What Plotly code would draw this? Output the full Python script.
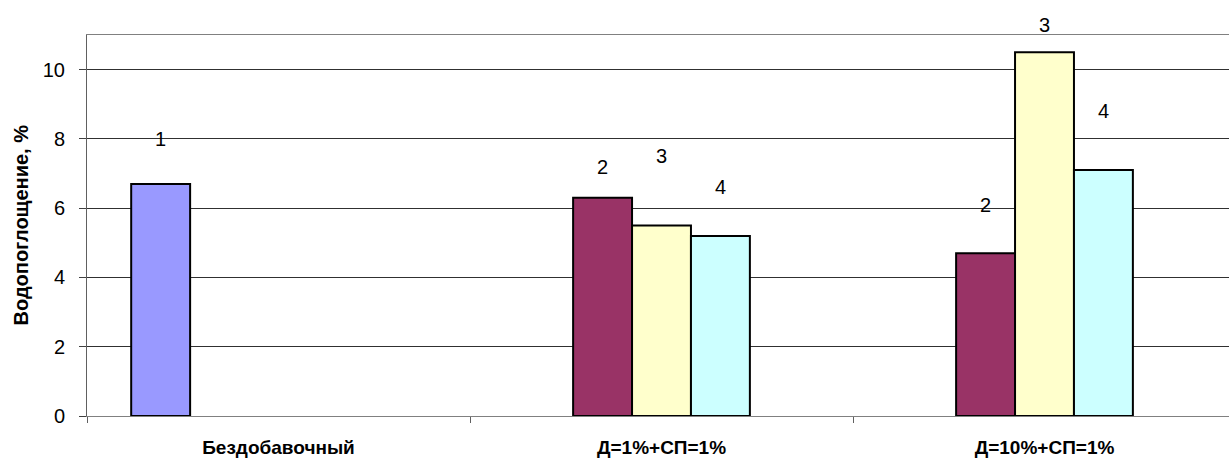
import plotly.graph_objects as go

# Categories on the x axis
categories = ["Бездобавочный", "Д=1%+СП=1%", "Д=10%+СП=1%"]

# Water absorption, % for each series (None = no bar in that group)
series_names = ["1", "2", "3", "4"]
series_1 = [6.7, None, None]
series_2 = [None, 6.3, 4.7]
series_3 = [None, 5.5, 10.5]
series_4 = [None, 5.2, 7.1]

# Height of each series label above its bar, in axis units
label_lift = {
    "1": [1.3, None, None],
    "2": [None, 0.9, 1.4],
    "3": [None, 2.0, 0.8],
    "4": [None, 1.4, 1.7],
}

y_ticks = [0, 2, 4, 6, 8, 10]
y_max = 11

colors = ["#9999FF", "#993366", "#FFFFCC", "#CCFFFF"]
values = [series_1, series_2, series_3, series_4]

# Five slots per category (the fifth stays empty), gap width 150 %
slots = 5
bar_w = 1.0 / (slots + 1.5)

font_family = "Arial, Liberation Sans, sans-serif"

fig = go.Figure()
annotations = []
for i, (name, vals, col) in enumerate(zip(series_names, values, colors)):
    offset = (i - slots / 2) * bar_w
    fig.add_trace(go.Bar(
        x=categories, y=vals, name=name,
        width=bar_w, offset=offset,
        marker=dict(color=col, line=dict(color="black", width=2)),
        showlegend=False, hoverinfo="x+y",
    ))
    for j, v in enumerate(vals):
        if v is None:
            continue
        # paper y so that labels above the top of the axis still show
        annotations.append(dict(
            x=j + offset + bar_w / 2, y=(v + label_lift[name][j]) / y_max,
            xref="x", yref="paper", text=name, showarrow=False,
            xanchor="center", yanchor="middle",
            font=dict(family=font_family, size=20, color="black"),
        ))

# Y axis title
plot_left, fig_w = 87, 1229
annotations.append(dict(
    x=-(plot_left - 20) / (fig_w - plot_left), y=0.5,
    xref="paper", yref="paper", text="<b>Водопоглощение, %</b>",
    textangle=-90, showarrow=False, xanchor="center", yanchor="middle",
    font=dict(family=font_family, size=20, color="black"),
))

fig.update_layout(
    width=fig_w, height=459,
    margin=dict(l=plot_left, r=0, t=35, b=43),
    paper_bgcolor="white", plot_bgcolor="white",
    barmode="overlay",
    annotations=annotations,
    font=dict(family=font_family, color="black"),
)

fig.update_xaxes(
    type="category",
    range=[-0.5, 2.5 - 7 / 383],
    tickmode="array",
    tickvals=[0, 1, 2],
    ticktext=["<b>%s</b>" % c for c in categories],
    tickson="boundaries",
    ticks="outside", ticklen=6, tickcolor="#606060",
    showline=True, linecolor="#808080", linewidth=1, mirror=True,
    showgrid=False, zeroline=False,
    tickfont=dict(family=font_family, size=19, color="black"),
    ticklabelstandoff=14,
)

fig.update_yaxes(
    range=[0, y_max],
    tickmode="array", tickvals=y_ticks,
    ticks="outside", ticklen=7, tickcolor="#404040",
    showline=True, linecolor="#606060", linewidth=1,
    showgrid=True, gridcolor="#303030", gridwidth=1,
    zeroline=False,
    tickfont=dict(family=font_family, size=20, color="black"),
    ticklabelstandoff=10,
)

fig.write_html("out.html")
